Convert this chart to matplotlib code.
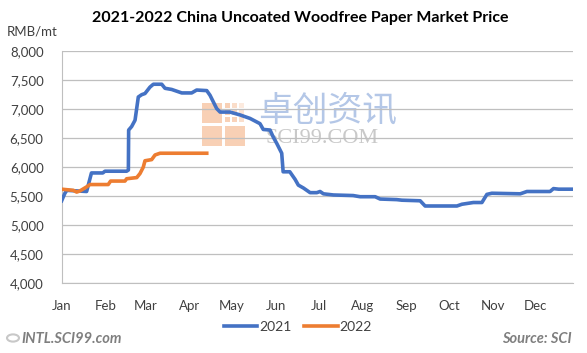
import matplotlib.pyplot as plt
from matplotlib.patches import Rectangle, Circle

# day-of-year positions and prices (RMB/mt)
days_2021 = [0, 2.3, 3.7, 17.6, 21, 29, 30.5, 45.8, 47, 47.2, 49.3, 51.7, 54, 56.4, 58.7,
             62.2, 64.6, 70.5, 72.8, 77.5, 84.6, 91.6, 95.1, 102.2, 104.5, 109.2, 111.6,
             118.6, 125.7, 132.7, 139.7, 142, 146.8, 149, 151.5, 155, 156, 160.7, 164.4,
             166.7, 170.3, 175, 179.7, 182, 184.4, 191.4, 205.3, 210.2, 220.8, 224.3, 236,
             239.6, 252.5, 256, 278.4, 281.9, 290, 296, 299.5, 303, 323, 327.7, 344, 346.4,
             350, 360.5]
price_2021 = [5420, 5550, 5600, 5580, 5900, 5900, 5930, 5930, 5950, 6640, 6700, 6810, 7210,
              7250, 7270, 7380, 7430, 7430, 7360, 7340, 7280, 7280, 7330, 7320, 7240, 7010,
              6950, 6950, 6900, 6840, 6750, 6650, 6640, 6520, 6410, 6240, 5920, 5920, 5790,
              5690, 5640, 5560, 5560, 5580, 5540, 5520, 5510, 5490, 5490, 5450, 5440, 5430,
              5420, 5330, 5330, 5360, 5390, 5390, 5530, 5550, 5540, 5580, 5580, 5630, 5620,
              5620]

days_2022 = [0, 8.2, 10.6, 12.9, 17.6, 20, 32.8, 34.5, 44.6, 45.8, 52.9, 55.2, 57.5, 58.7,
             63.4, 65.8, 69.3, 102.2]
price_2022 = [5620, 5600, 5570, 5590, 5660, 5700, 5700, 5760, 5760, 5800, 5820, 5890, 6000,
              6110, 6130, 6210, 6240, 6240]

month_days = [0, 31, 59, 90, 120, 151, 181, 212, 243, 273, 304, 334]
month_labels = ['Jan', 'Feb', 'Mar', 'Apr', 'May', 'Jun', 'Jul', 'Aug', 'Sep', 'Oct', 'Nov', 'Dec']
y_ticks = [4000, 4500, 5000, 5500, 6000, 6500, 7000, 7500, 8000]

plt.rcParams['font.family'] = ['Lato', 'DejaVu Sans']

fig = plt.figure(figsize=(5.87, 3.53), dpi=100)
ax = fig.add_axes([0.105, 0.198, 0.872, 0.657])

ax.plot(days_2021, price_2021, color='#4472C4', linewidth=2.6, label='2021',
        solid_joinstyle='round', zorder=3)
ax.plot(days_2022, price_2022, color='#ED7D31', linewidth=2.6, label='2022',
        solid_joinstyle='round', zorder=3)

ax.set_xlim(0, 360.5)
ax.set_ylim(4000, 8000)
ax.set_yticks(y_ticks)
ax.set_yticklabels([f'{v:,}' for v in y_ticks])
ax.set_xticks(month_days)
ax.set_xticklabels(month_labels)
ax.tick_params(axis='y', length=0, pad=13, labelsize=9.5, labelcolor='#404040')
ax.tick_params(axis='x', length=0, pad=12, labelsize=9.5, labelcolor='#404040')
ax.grid(axis='y', color='#BFBFBF', linewidth=0.9, zorder=0)
for s in ['top', 'right']:
    ax.spines[s].set_visible(False)
ax.spines['left'].set_color('#BFBFBF')
ax.spines['bottom'].set_color('#BFBFBF')

# watermark
wm = fig.transFigure
logo_col = '#F8CBAD'
for (px, py, w, h) in [(202, 103, 20, 20), (202, 126, 20, 20), (225, 126, 20, 20)]:
    ax.add_patch(Rectangle((px / 587, 1 - (py + h) / 353), w / 587, h / 353,
                           transform=wm, facecolor=logo_col, edgecolor='none',
                           alpha=0.9, clip_on=False, zorder=1))
for i in range(3):
    for j in range(3):
        a = min(0.9, max(0.2, 0.9 - 0.25 * i + 0.1 * j))
        ax.add_patch(Rectangle(((225 + i * 7) / 587, 1 - (103 + j * 7 + 5) / 353),
                               5 / 587, 5 / 353, transform=wm, facecolor=logo_col,
                               edgecolor='none', alpha=a, clip_on=False, zorder=1))
ax.text(328 / 587, 1 - 111 / 353, '卓创资讯', transform=wm, ha='center', va='center',
        fontsize=25, color='#B4C7E7', family=['Noto Sans CJK SC'], zorder=1)
ax.text(322 / 587, 1 - 139 / 353, 'SCI99.COM', transform=wm, ha='center', va='center',
        fontsize=16, color='#C9C9C9', family=['Liberation Serif'], zorder=1)

fig.text(300 / 587, 1 - 18 / 353, '2021-2022 China Uncoated Woodfree Paper Market Price',
         ha='center', va='center', fontsize=11.5, fontweight='bold', color='#000000')
fig.text(32 / 587, 1 - 32 / 353, 'RMB/mt', ha='center', va='center', fontsize=9.5,
         color='#404040')

fig.legend(loc='center', bbox_to_anchor=(298 / 587, 1 - 327 / 353), ncol=2, frameon=False,
           fontsize=10, handlelength=2.4, handletextpad=0.15, columnspacing=0.9,
           labelcolor='#404040')

# footer
fig.patches.append(Circle((13 / 587, 1 - 338 / 353), 6 / 587, transform=wm,
                          facecolor='none', edgecolor='#C8C8C8', linewidth=1.5))
fig.text(21 / 587, 1 - 339 / 353, 'INTL.SCI99.com', ha='left', va='center', fontsize=10.5,
         fontweight='bold', fontstyle='italic', color='#7F7F7F')
fig.text(572 / 587, 1 - 339 / 353, 'Source: SCI', ha='right', va='center', fontsize=10.5,
         fontweight='bold', fontstyle='italic', color='#7F7F7F')

fig.savefig('out.png', dpi=100)
